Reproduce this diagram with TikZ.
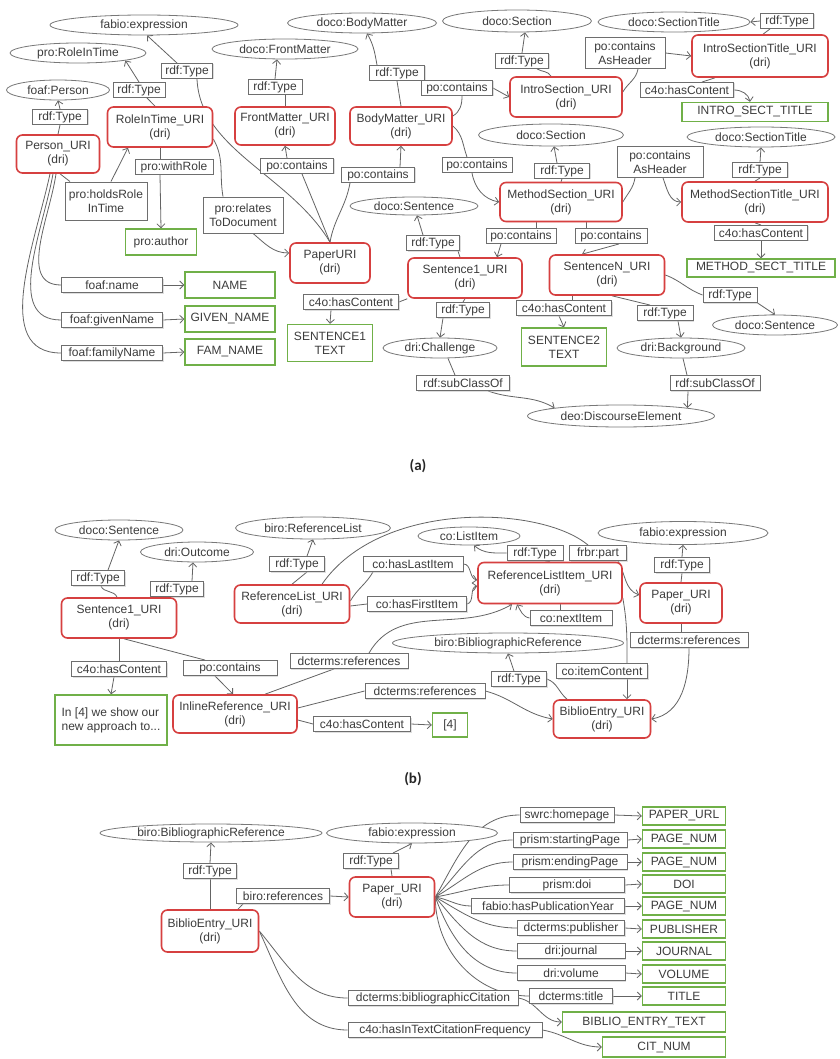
\documentclass[tikz,border=0pt]{standalone}
\usepackage{fontspec}
\setmainfont{Liberation Sans}
\newfontfamily\capfont{Carlito}
\usetikzlibrary{shapes.geometric,arrows.meta,shadows}
\pgfdeclarelayer{bgfill}
\pgfdeclarelayer{background}
\pgfsetlayers{bgfill,background,main}
\definecolor{redc}{RGB}{214,64,64}
\definecolor{grc}{RGB}{112,176,72}
\definecolor{prc}{RGB}{110,110,110}
\definecolor{elc}{RGB}{120,120,120}
\definecolor{lnc}{RGB}{100,100,100}
\definecolor{txt}{RGB}{60,60,60}
\begin{document}
\begin{tikzpicture}[x=1pt,y=1pt,
 every node/.style={font=\fontsize{12}{14}\selectfont, text=txt},
 cls/.style={ellipse, draw=elc, line width=0.8pt, inner sep=0pt, minimum height=20pt, fill=white},
 inst/.style={rectangle, rounded corners=6pt, draw=redc, line width=1.6pt, fill=white, align=center, inner sep=1pt, minimum height=40pt, drop shadow={shadow xshift=0.8pt, shadow yshift=-0.8pt, fill=red!25}},
 lit/.style={rectangle, draw=grc, line width=1.4pt, fill=white, align=center, inner sep=1pt, minimum height=18pt},
 prop/.style={rectangle, draw=prc, line width=0.9pt, fill=white, align=center, inner sep=1pt, minimum height=15pt, drop shadow={shadow xshift=1pt, shadow yshift=-1pt, fill=gray!50}},
 ln/.style={draw=lnc, line width=0.8pt},
 ar/.style={ln, -{Straight Barb[length=4pt,width=8pt]}},
 subcap/.style={font=\capfont\bfseries\fontsize{15}{18}\selectfont, text=black!85}
]
\useasboundingbox (0,0) rectangle (839,-1059);
\begin{pgfonlayer}{bgfill}
\fill[white] (0,0) rectangle (839,-1059);
\end{pgfonlayer}

% ---------------- (a) ----------------
\node[cls, minimum width=188pt] (a_fe) at (144,-25) {fabio:expression};
\node[cls, minimum width=136pt] (a_rit) at (78,-53) {pro:RoleInTime};
\node[cls, minimum width=103pt] (a_fp) at (58,-90) {foaf:Person};
\node[prop, minimum width=55pt] (a_t1) at (60,-117) {rdf:Type};
\node[inst, minimum width=83pt, minimum height=38pt] (a_person) at (58,-154) {Person\_URI\\(dri)};
\node[prop, minimum width=52pt] (a_t2) at (139,-90) {rdf:Type};
\node[inst, minimum width=105pt] (a_role) at (160,-127) {RoleInTime\_URI\\(dri)};
\node[prop, minimum width=51pt] (a_t3) at (187,-71) {rdf:Type};
\node[prop, minimum width=78pt] (a_wr) at (174,-167) {pro:withRole};
\node[prop, minimum width=82pt, minimum height=38pt] (a_hr) at (106,-201) {pro:holdsRole\\InTime};
\node[lit, minimum width=71pt, minimum height=26pt] (a_author) at (161,-242) {pro:author};
\node[cls, minimum width=146pt] (a_dfm) at (285,-49) {doco:FrontMatter};
\node[prop, minimum width=54pt] (a_t4) at (275,-87) {rdf:Type};
\node[inst, minimum width=100pt, minimum height=38pt] (a_front) at (285,-126) {FrontMatter\_URI\\(dri)};
\node[prop, minimum width=73pt] (a_pc1) at (297,-166) {po:contains};
\node[prop, minimum width=80pt, minimum height=36pt] (a_rd) at (243,-215) {pro:relates\\ToDocument};
\node[cls, minimum width=149pt] (a_dbm) at (362,-23) {doco:BodyMatter};
\node[prop, minimum width=55pt] (a_t5) at (397,-73) {rdf:Type};
\node[inst, minimum width=102pt, minimum height=38pt] (a_body) at (401,-126) {BodyMatter\_URI\\(dri)};
\node[prop, minimum width=73pt] (a_pc2) at (378,-175) {po:contains};
\node[cls, minimum width=128pt, minimum height=18pt] (a_dsen) at (414,-206) {doco:Sentence};
\node[prop, minimum width=53pt] (a_t6) at (433,-243) {rdf:Type};
\node[inst, minimum width=80pt] (a_paper) at (330,-263) {PaperURI\\(dri)};
\node[prop, minimum width=70pt] (a_pc3) at (521,-236) {po:contains};
\node[prop, minimum width=72pt] (a_pc4) at (611,-236) {po:contains};
\node[inst, minimum width=114pt] (a_s1) at (465,-278) {Sentence1\_URI\\(dri)};
\node[inst, minimum width=115pt] (a_sn) at (607,-275) {SentenceN\_URI\\(dri)};
\node[lit, minimum width=148pt] (a_mst) at (761,-268) {METHOD\_SECT\_TITLE};
\node[prop, minimum width=93pt] (a_hc1) at (761,-233) {c4o:hasContent};
\node[prop, minimum width=54pt] (a_t7) at (730,-295) {rdf:Type};
\node[cls, minimum width=125pt] (a_dsen2) at (775,-325) {doco:Sentence};
\node[prop, minimum width=53pt] (a_t8) at (463,-310) {rdf:Type};
\node[prop, minimum width=95pt] (a_hc2) at (564,-308) {c4o:hasContent};
\node[prop, minimum width=56pt] (a_t9) at (665,-313) {rdf:Type};
\node[cls, minimum width=114pt] (a_chal) at (440,-348) {dri:Challenge};
\node[lit, minimum width=85pt, minimum height=38pt] (a_s2t) at (564,-347) {SENTENCE2\\TEXT};
\node[cls, minimum width=128pt] (a_bg) at (681,-348) {dri:Background};
\node[prop, minimum width=93pt] (a_sc1) at (463,-383) {rdf:subClassOf};
\node[prop, minimum width=90pt] (a_sc2) at (715,-383) {rdf:subClassOf};
\node[cls, minimum width=187pt, minimum height=22pt] (a_deo) at (621,-416) {deo:DiscourseElement};
\node[prop, minimum width=101pt] (a_fn) at (112,-285) {foaf:name};
\node[lit, minimum width=90pt, minimum height=26pt] (a_name) at (230,-285) {NAME};
\node[prop, minimum width=101pt] (a_fg) at (112,-320) {foaf:givenName};
\node[lit, minimum width=90pt, minimum height=26pt] (a_gname) at (230,-319) {GIVEN\_NAME};
\node[prop, minimum width=101pt] (a_ff) at (112,-353) {foaf:familyName};
\node[lit, minimum width=90pt, minimum height=26pt] (a_fam) at (230,-352) {FAM\_NAME};
\node[prop, minimum width=95pt] (a_hc3) at (351,-302) {c4o:hasContent};
\node[lit, minimum width=85pt, minimum height=37pt] (a_s1t) at (330,-343) {SENTENCE1\\TEXT};
\node[cls, minimum width=149pt, minimum height=22pt] (a_dsec) at (517,-21) {doco:Section};
\node[cls, minimum width=152pt] (a_dst) at (674,-22) {doco:SectionTitle};
\node[prop, minimum width=53pt] (a_t10) at (787,-21) {rdf:Type};
\node[inst, minimum width=136pt, minimum height=42pt] (a_ist) at (760,-56) {IntroSectionTitle\_URI\\(dri)};
\node[prop, minimum width=80pt, minimum height=31pt] (a_cah1) at (625,-53) {po:contains\\AsHeader};
\node[prop, minimum width=53pt] (a_t11) at (522,-61) {rdf:Type};
\node[prop, minimum width=71pt] (a_pc5) at (457,-88) {po:contains};
\node[inst, minimum width=112pt] (a_intro) at (566,-97) {IntroSection\_URI\\(dri)};
\node[prop, minimum width=93pt] (a_hc4) at (687,-90) {c4o:hasContent};
\node[lit, minimum width=146pt, minimum height=19pt] (a_istt) at (755,-112) {INTRO\_SECT\_TITLE};
\node[cls, minimum width=145pt, minimum height=22pt] (a_dsec2) at (551,-135) {doco:Section};
\node[cls, minimum width=148pt] (a_dst2) at (761,-137) {doco:SectionTitle};
\node[prop, minimum width=70pt] (a_pc6) at (477,-165) {po:contains};
\node[prop, minimum width=55pt] (a_t12) at (562,-171) {rdf:Type};
\node[prop, minimum width=86pt, minimum height=31pt] (a_cah2) at (660,-162) {po:contains\\AsHeader};
\node[prop, minimum width=55pt] (a_t13) at (760,-170) {rdf:Type};
\node[inst, minimum width=122pt, minimum height=39pt] (a_meth) at (561,-202) {MethodSection\_URI\\(dri)};
\node[inst, minimum width=146pt] (a_mstu) at (755,-202) {MethodSectionTitle\_URI\\(dri)};
\node[subcap] (capa) at (418,-466) {(a)};

% ---------------- (b) ----------------
\node[cls, minimum width=128pt] (b_dsen) at (119,-530) {doco:Sentence};
\node[cls, minimum width=113pt] (b_out) at (197,-552) {dri:Outcome};
\node[prop, minimum width=53pt] (b_t1) at (98,-578) {rdf:Type};
\node[prop, minimum width=53pt] (b_t2) at (177,-589) {rdf:Type};
\node[inst, minimum width=115pt] (b_s1) at (119,-618) {Sentence1\_URI\\(dri)};
\node[cls, minimum width=155pt, minimum height=22pt] (b_brl) at (313,-528) {biro:ReferenceList};
\node[prop, minimum width=55pt] (b_t3) at (297,-564) {rdf:Type};
\node[inst, minimum width=115pt, minimum height=38pt] (b_rl) at (292,-604) {ReferenceList\_URI\\(dri)};
\node[prop, minimum width=95pt] (b_hc1) at (119,-669) {c4o:hasContent};
\node[prop, minimum width=94pt] (b_pc) at (230,-668) {po:contains};
\node[lit, minimum width=112pt, minimum height=50pt, align=left] (b_in4) at (111,-720) {In [4] we show our\\new approach to...};
\node[inst, minimum width=124pt, minimum height=38pt] (b_inl) at (235,-714) {InlineReference\_URI\\(dri)};
\node[prop, minimum width=118pt] (b_dr1) at (349,-661) {dcterms:references};
\node[prop, minimum width=120pt] (b_dr2) at (425,-691) {dcterms:references};
\node[prop, minimum width=97pt] (b_hc2) at (362,-724) {c4o:hasContent};
\node[cls, minimum width=102pt, minimum height=18pt] (b_li) at (469,-536) {co:ListItem};
\node[prop, minimum width=56pt] (b_t4) at (535,-553) {rdf:Type};
\node[prop, minimum width=57pt] (b_fp) at (598,-553) {frbr:part};
\node[cls, minimum width=170pt, minimum height=23pt] (b_fe) at (683,-533) {fabio:expression};
\node[prop, minimum width=55pt] (b_t5) at (682,-565) {rdf:Type};
\node[prop, minimum width=100pt] (b_hli) at (413,-564) {co:hasLastItem};
\node[prop, minimum width=99pt] (b_hfi) at (417,-604) {co:hasFirstItem};
\node[inst, minimum width=144pt, minimum height=41pt] (b_rli) at (550,-583) {ReferenceListItem\_URI\\(dri)};
\node[inst, minimum width=82pt] (b_paper) at (681,-603) {Paper\_URI\\(dri)};
\node[prop, minimum width=82pt] (b_ni) at (571,-618) {co:nextItem};
\node[cls, minimum width=231pt] (b_bbr) at (508,-643) {biro:BibliographicReference};
\node[prop, minimum width=118pt] (b_dr3) at (689,-640) {dcterms:references};
\node[prop, minimum width=91pt] (b_ic) at (602,-671) {co:itemContent};
\node[prop, minimum width=55pt] (b_t6) at (519,-679) {rdf:Type};
\node[inst, minimum width=97pt, minimum height=38pt] (b_be) at (602,-719) {BiblioEntry\_URI\\(dri)};
\node[lit, minimum width=35pt, minimum height=24pt] (b_4) at (450,-725) {[4]};
\node[subcap] (capb) at (413,-779) {(b)};

% ---------------- (c) ----------------
\node[cls, minimum width=222pt, minimum height=18pt] (c_bbr) at (211,-833) {biro:BibliographicReference};
\node[cls, minimum width=171pt] (c_fe) at (412,-833) {fabio:expression};
\node[prop, minimum width=53pt] (c_t1) at (210,-871) {rdf:Type};
\node[prop, minimum width=55pt] (c_t2) at (371,-861) {rdf:Type};
\node[prop, minimum width=93pt] (c_br) at (283,-896) {biro:references};
\node[inst, minimum width=85pt] (c_paper) at (392,-897) {Paper\_URI\\(dri)};
\node[inst, minimum width=97pt, minimum height=42pt] (c_be) at (210,-931) {BiblioEntry\_URI\\(dri)};
\node[prop, minimum width=94pt] (c_p1) at (567,-815) {swrc:homepage};
\node[lit, minimum width=83pt] (c_l1) at (684,-816) {PAPER\_URL};
\node[prop, minimum width=114pt] (c_p2) at (570,-840) {prism:startingPage};
\node[lit, minimum width=83pt] (c_l2) at (684,-839) {PAGE\_NUM};
\node[prop, minimum width=114pt] (c_p3) at (570,-862) {prism:endingPage};
\node[lit, minimum width=83pt] (c_l3) at (684,-862) {PAGE\_NUM};
\node[prop, minimum width=115pt] (c_p4) at (567,-885) {prism:doi};
\node[lit, minimum width=83pt] (c_l4) at (684,-884) {DOI};
\node[prop, minimum width=153pt] (c_p5) at (548,-906) {fabio:hasPublicationYear};
\node[lit, minimum width=83pt] (c_l5) at (684,-906) {PAGE\_NUM};
\node[prop, minimum width=107pt] (c_p6) at (571,-928) {dcterms:publisher};
\node[lit, minimum width=83pt] (c_l6) at (684,-929) {PUBLISHER};
\node[prop, minimum width=108pt] (c_p7) at (571,-951) {dri:journal};
\node[lit, minimum width=83pt] (c_l7) at (684,-951) {JOURNAL};
\node[prop, minimum width=108pt] (c_p8) at (571,-973) {dri:volume};
\node[lit, minimum width=83pt] (c_l8) at (684,-974) {VOLUME};
\node[prop, minimum width=83pt] (c_p9) at (571,-996) {dcterms:title};
\node[lit, minimum width=83pt] (c_l9) at (684,-996) {TITLE};
\node[prop, minimum width=170pt] (c_p10) at (433,-998) {dcterms:bibliographicCitation};
\node[lit, minimum width=163pt, minimum height=20pt] (c_l10) at (644,-1022) {BIBLIO\_ENTRY\_TEXT};
\node[prop, minimum width=194pt] (c_p11) at (445,-1030) {c4o:hasInTextCitationFrequency};
\node[lit, minimum width=123pt, minimum height=20pt] (c_l11) at (664,-1047) {CIT\_NUM};

\begin{pgfonlayer}{background}
% ---- (a) edges
\draw[ln] (a_person.north) -- (a_t1.south);
\draw[ar] (a_t1.north) -- (a_fp.south);
\draw[ln] ([xshift=-5pt]a_role.north) -- ([xshift=8pt]a_t2.south);
\draw[ar] (a_t2.north) -- (a_rit.-9);
\draw[ln] (a_paper.north) .. controls (290,-175) and (200,-150) .. ([xshift=10pt]a_t3.south);
\draw[ar] ([xshift=-10pt]a_t3.north) -- ([xshift=3pt]a_fe.south);
\draw[ln] ([xshift=2pt]a_person.south) -- ([xshift=-36pt]a_hr.north);
\draw[ar] ([xshift=5pt]a_hr.north) -- ([xshift=-32pt]a_role.south);
\draw[ln] (a_role.south) -- ([xshift=-14pt]a_wr.north);
\draw[ar] ([xshift=-14pt]a_wr.south) -- (a_author.north);
\draw[ln] ([yshift=-12pt]a_role.east) to[out=-60,in=100] ([xshift=-20pt]a_rd.north);
\draw[ar] ([xshift=10pt]a_rd.south) to[out=-40,in=180] ([yshift=10pt]a_paper.west);
\draw[ln] (a_paper.north) -- ([xshift=5pt]a_pc1.south);
\draw[ar] ([xshift=-10pt]a_pc1.north) -- (a_front.south);
\draw[ln] (a_paper.north) to[out=80,in=-100] ([xshift=-28pt]a_pc2.south);
\draw[ar] ([xshift=22pt]a_pc2.north) -- (a_body.south);
\draw[ln] (a_front.north) -- ([xshift=10pt]a_t4.south);
\draw[ar] (a_t4.north) -- ([xshift=-8pt]a_dfm.south);
\draw[ln] (a_body.north) -- (a_t5.south);
\draw[ar] ([xshift=-20pt]a_t5.north) to[out=100,in=-60] ([xshift=5pt]a_dbm.south);
\draw[ln] ([yshift=10pt]a_body.east) to[out=30,in=-90] ([xshift=5pt]a_pc5.south);
\draw[ar] (a_pc5.east) -- (a_intro.west);
\draw[ln] (a_body.east) to[out=-40,in=110] ([xshift=-10pt]a_pc6.north);
\draw[ar] ([xshift=-5pt]a_pc6.south) to[out=-80,in=170] (a_meth.west);
\draw[ln] ([xshift=-15pt]a_intro.north) to[out=120,in=-30] ([xshift=15pt]a_t11.south);
\draw[ar] (a_t11.north) -- ([xshift=8pt]a_dsec.south);
\draw[ln] ([yshift=5pt]a_intro.east) to[out=60,in=-100] ([xshift=13pt]a_cah1.south);
\draw[ar] (a_cah1.east) -- (a_ist.west);
\draw[ln] ([xshift=3pt]a_ist.north) -- ([xshift=-17pt]a_t10.south);
\draw[ar] (a_t10.west) -- (a_dst.east);
\draw[ln] ([xshift=-45pt]a_ist.south) -- ([xshift=15pt]a_hc4.north);
\draw[ar] (a_hc4.east) to[out=0,in=100] ([xshift=-5pt]a_istt.north);
\draw[ln] (a_meth.north) -- (a_t12.south);
\draw[ar] ([xshift=-5pt]a_t12.north) -- ([xshift=3pt]a_dsec2.south);
\draw[ln] (a_meth.east) to[out=60,in=-100] ([xshift=-25pt]a_cah2.south);
\draw[ar] ([xshift=3pt]a_cah2.south) to[out=-70,in=180] (a_mstu.west);
\draw[ln] (a_mstu.north) -- (a_t13.south);
\draw[ar] (a_t13.north) -- (a_dst2.south);
\draw[ln] (a_mstu.south) -- (a_hc1.north);
\draw[ar] (a_hc1.south) -- (a_mst.north);
\draw[ln] ([xshift=-25pt]a_meth.south) -- ([xshift=15pt]a_pc3.north);
\draw[ar] ([xshift=-20pt]a_pc3.south) -- ([xshift=32pt]a_s1.north);
\draw[ln] ([xshift=25pt]a_meth.south) -- ([xshift=-25pt]a_pc4.north);
\draw[ar] ([xshift=8pt]a_pc4.south) -- ([xshift=-25pt]a_sn.north);
\draw[ln] ([xshift=-5pt]a_s1.north) -- ([xshift=25pt]a_t6.south);
\draw[ar] ([xshift=-10pt]a_t6.north) -- ([xshift=3pt]a_dsen.south);
\draw[ln] (a_s1.south west) -- (a_hc3.east);
\draw[ar] ([xshift=-20pt]a_hc3.south) -- (a_s1t.north);
\draw[ln] (a_s1.south) -- (a_t8.north);
\draw[ar] ([xshift=-20pt]a_t8.south) -- (a_chal.north);
\draw[ln] ([xshift=-35pt]a_sn.south) -- ([xshift=8pt]a_hc2.north);
\draw[ar] ([xshift=-5pt]a_hc2.south) -- (a_s2t.north);
\draw[ln] ([xshift=5pt]a_sn.south) -- ([xshift=-15pt]a_t9.north);
\draw[ar] ([xshift=13pt]a_t9.south) -- (a_bg.north);
\draw[ln] (a_sn.east) to[out=-20,in=160] (a_t7.west);
\draw[ar] (a_t7.south east) -- (a_dsen2.north);
\draw[ln] ([xshift=8pt]a_chal.south) -- ([xshift=-8pt]a_sc1.north);
\draw[ar] ([xshift=25pt]a_sc1.south) to[out=-20,in=150] (a_deo.north west);
\draw[ln] ([xshift=2pt]a_bg.south) -- ([xshift=-28pt]a_sc2.north);
\draw[ar] ([xshift=-27pt]a_sc2.south) -- (a_deo.north east);
\draw[ln] ([xshift=-2pt]a_person.south) to[out=-98,in=180] (a_fn.west);
\draw[ln] ([xshift=-5pt]a_person.south) to[out=-100,in=180] (a_fg.west);
\draw[ln] ([xshift=-8pt]a_person.south) to[out=-102,in=180] (a_ff.west);
\draw[ar] (a_fn.east) -- (a_name.west);
\draw[ar] (a_fg.east) -- (a_gname.west);
\draw[ar] (a_ff.east) -- (a_fam.west);

% ---- (b) edges
\draw[ln] ([xshift=-2pt]b_s1.north) to[out=110,in=-70] ([xshift=3pt]b_t1.south);
\draw[ar] ([xshift=10pt]b_t1.north) -- (b_dsen.south);
\draw[ln] ([xshift=31pt]b_s1.north) -- ([xshift=-26pt]b_t2.south);
\draw[ar] ([xshift=15pt]b_t2.north) -- ([xshift=-4pt]b_out.south);
\draw[ln] (b_s1.south) -- (b_hc1.north);
\draw[ar] ([xshift=-5pt]b_hc1.south) -- (b_in4.north);
\draw[ln] ([xshift=5pt]b_s1.south) -- ([xshift=-25pt]b_pc.north);
\draw[ar] ([xshift=-15pt]b_pc.south) -- ([xshift=-2pt]b_inl.north);
\draw[ln] (b_rl.north) -- ([xshift=10pt]b_t3.south);
\draw[ar] ([xshift=10pt]b_t3.north) -- (b_brl.south);
\draw[ln] ([yshift=3pt]b_rl.east) to[out=60,in=-120] ([xshift=-40pt]b_hli.south);
\draw[ar] (b_hli.east) to[out=0,in=170] ([yshift=3pt]b_rli.west);
\draw[ln] ([yshift=-2pt]b_rl.east) -- (b_hfi.west);
\draw[ar] (b_hfi.east) to[out=10,in=190] ([yshift=-3pt]b_rli.west);
\draw[ln] ([xshift=30pt]b_rl.north) .. controls (380,-500) and (540,-505) .. ([xshift=-10pt]b_fp.north);
\draw[ar] ([xshift=20pt]b_fp.south) to[out=-60,in=160] ([yshift=8pt]b_paper.west);
\draw[ln] (b_rli.north) -- ([xshift=10pt]b_t4.south);
\draw[ar] (b_t4.west) to[out=180,in=-40] ([xshift=5pt]b_li.south);
\draw[ln] ([xshift=10pt]b_rli.south) -- ([xshift=-11pt]b_ni.north);
\draw[ar] (b_ni.west) to[out=170,in=-60] ([xshift=-33pt]b_rli.south);
\draw[ln] ([yshift=-15pt]b_rli.east) to[out=-80,in=90] ([xshift=25pt]b_ic.north);
\draw[ar] ([xshift=25pt]b_ic.south) -- ([xshift=25pt]b_be.north);
\draw[ln] (b_paper.north) -- (b_t5.south);
\draw[ar] (b_t5.north) -- (b_fe.south);
\draw[ln] (b_paper.south) -- ([xshift=-8pt]b_dr3.north);
\draw[ar] (b_dr3.south) to[out=-90,in=10] (b_be.east);
\draw[ln] ([xshift=-35pt]b_be.north) to[out=140,in=-20] (b_t6.east);
\draw[ar] ([xshift=-5pt]b_t6.north) -- (b_bbr.south);
\draw[ln] ([yshift=6pt]b_inl.east) -- (b_dr2.west);
\draw[ar] (b_dr2.east) to[out=-15,in=170] (b_be.west);
\draw[ln] ([xshift=30pt]b_inl.north) -- ([xshift=-15pt]b_dr1.south);
\draw[ar] ([xshift=20pt]b_dr1.north) to[out=60,in=-150] ([xshift=-38pt]b_rli.south);
\draw[ln] ([yshift=-6pt]b_inl.east) -- (b_hc2.west);
\draw[ar] (b_hc2.east) -- (b_4.west);

% ---- (c) edges
\draw[ln] (c_be.north) -- (c_t1.south);
\draw[ar] (c_t1.north) -- (c_bbr.south);
\draw[ln] ([xshift=28pt]c_be.north) -- ([xshift=-40pt]c_br.south);
\draw[ar] (c_br.east) -- (c_paper.west);
\draw[ln] (c_paper.north) -- ([xshift=20pt]c_t2.south);
\draw[ar] ([xshift=22pt]c_t2.north) -- (c_fe.south);
\draw[ln] (c_paper.east) to[out=60,in=180] (c_p1.west);
\draw[ln] (c_paper.east) to[out=45,in=180] (c_p2.west);
\draw[ln] (c_paper.east) to[out=30,in=180] (c_p3.west);
\draw[ln] (c_paper.east) to[out=10,in=180] (c_p4.west);
\draw[ln] (c_paper.east) to[out=-10,in=180] (c_p5.west);
\draw[ln] (c_paper.east) to[out=-30,in=180] (c_p6.west);
\draw[ln] (c_paper.east) to[out=-50,in=180] (c_p7.west);
\draw[ln] (c_paper.east) to[out=-70,in=180] (c_p8.west);
\draw[ln] (c_paper.east) to[out=-90,in=180] (c_p9.west);
\draw[ar] (c_p1.east) -- (c_l1.west);
\draw[ar] (c_p2.east) -- (c_l2.west);
\draw[ar] (c_p3.east) -- (c_l3.west);
\draw[ar] (c_p4.east) -- (c_l4.west);
\draw[ar] (c_p5.east) -- (c_l5.west);
\draw[ar] (c_p6.east) -- (c_l6.west);
\draw[ar] (c_p7.east) -- (c_l7.west);
\draw[ar] (c_p8.east) -- (c_l8.west);
\draw[ar] (c_p9.east) -- (c_l9.west);
\draw[ln] (c_be.east) to[out=-50,in=180] (c_p10.west);
\draw[ar] (c_p10.east) to[out=-10,in=180] (c_l10.west);
\draw[ln] (c_be.east) to[out=-65,in=180] (c_p11.west);
\draw[ar] (c_p11.east) to[out=-10,in=180] (c_l11.west);
\end{pgfonlayer}
\end{tikzpicture}
\end{document}
